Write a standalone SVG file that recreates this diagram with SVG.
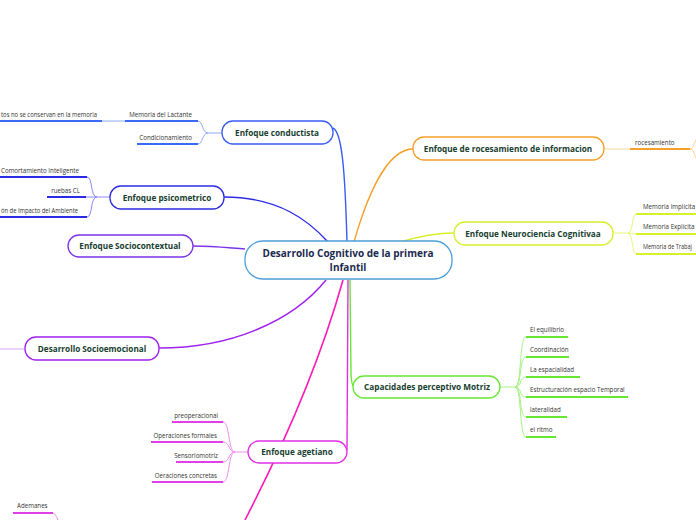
<svg xmlns="http://www.w3.org/2000/svg" width="696" height="520" viewBox="0 0 696 520">
<style>
.node{fill:#fff;stroke-width:1.3}
.nt{font-family:"Open Sans","Noto Sans",sans-serif;font-weight:bold;font-size:8.2px;fill:#17402f;text-anchor:middle}
.ct{font-family:"Open Sans","Noto Sans",sans-serif;font-weight:bold;font-size:10px;fill:#1b2a50;text-anchor:middle}
.st{font-family:"Open Sans","Noto Sans",sans-serif;font-size:6.2px;fill:#333}
.c{fill:none}
.thin{fill:none;stroke-width:1}
.ul{fill:none;stroke-width:2}
</style>
<rect width="696" height="520" fill="#fff"/>
<g id="connectors">
<path class="c" d="M333,128 C342,132 345,170 347,242" stroke="#3a5cf5" stroke-width="1.4"/>
<path class="c" d="M224,197 C280,197 310,222 328,242" stroke="#2b2be6" stroke-width="1.4"/>
<path class="c" d="M193,246 C215,246 230,248 245,249" stroke="#7a35e8" stroke-width="1.4"/>
<path class="c" d="M159,348 C230,348 292,322 326,280" stroke="#a020f0" stroke-width="1.4"/>
<path class="c" d="M348,280 L347,450" stroke="#e030e6" stroke-width="1.4"/>
<path class="c" d="M343,280 Q312,390 245,520" stroke="#ff18b4" stroke-width="1.6"/>
<path class="c" d="M354,242 C366,200 386,149 413,149" stroke="#f5a02a" stroke-width="1.4"/>
<path class="c" d="M400,242 C420,236 435,233 454,233" stroke="#d6f02a" stroke-width="1.4"/>
<path class="c" d="M350,280 L351,375 Q352,387 354,387" stroke="#66e833" stroke-width="1.4"/>
<path class="thin" stroke="#8fa8f8" d="M222,133 L208,133 C202,133 203,121 198,121 M208,133 C202,133 203,144 198,144 M102,121 L125,121"/>
<path class="ul" stroke="#3a6af5" d="M125,121 L198,121 M137,144 L198,144 M0,121 L102,121"/>
<path class="thin" stroke="#8a8af5" d="M110,197 L97,197 C90,197 93,177 87,177 M97,197 L86,197 M97,197 C90,197 93,217 87,217"/>
<path class="ul" stroke="#2b2be6" d="M0,177 L87,177 M47,197 L86,197 M0,217 L87,217"/>
<path class="thin" stroke="#d8a8f5" stroke-width="1.4" d="M25,349 L0,349"/>
<path class="thin" stroke="#f090f0" d="M248,452 L235,452 C228,452 230,422 223,422 M235,452 C228,452 230,442 223,442 M235,452 C228,452 230,462 223,462 M235,452 C228,452 230,482 223,482"/>
<path class="ul" stroke="#e040e6" d="M172,422 L223,422 M151,442 L223,442 M176,462 L223,462 M152,482 L223,482"/>
<path class="ul" stroke="#e040e6" d="M13,513 L53,513"/>
<path class="thin" stroke="#f090f0" d="M53,513 C55,514 57,517 58,520"/>
<path class="thin" stroke="#fbd49a" d="M604,149 L630,149 M690,149 C694,149 694,142 697,138 M690,149 C694,149 694,156 697,160"/>
<path class="ul" stroke="#f5a02a" d="M630,149 L690,149"/>
<path class="thin" stroke="#e6f77a" d="M613,233 L628,233 C633,233 632,214 636,214 M628,233 L636,234 M628,233 C633,233 632,254 636,254"/>
<path class="ul" stroke="#d6f02a" d="M636,214 L696,214 M636,234 L696,234 M636,254 L696,254"/>
<path class="thin" stroke="#a8f088" d="M500,387 L515,387 C522,387 519,337 526,337 M515,387 C522,387 519,357 526,357 M515,387 C522,387 519,377 526,377 M515,387 C522,387 519,397 526,397 M515,387 C522,387 519,417 526,417 M515,387 C522,387 519,437 526,437"/>
<path class="ul" stroke="#66e833" d="M526,337 L568,337 M526,357 L569,357 M526,377 L580,377 M526,397 L628,397 M526,417 L567,417 M526,437 L556,437"/>
</g>
<g id="center">
<rect class="node" x="245" y="241" width="207" height="38" rx="18" stroke="#4a9fd8"/>
<text class="ct" x="348" y="257">Desarrollo Cognitivo de la primera</text>
<text class="ct" x="348" y="271">Infantil</text>
</g>
<g id="conductista">
<rect class="node" x="222" y="121" width="111" height="23" rx="11" stroke="#3a5cf5"/>
<text class="nt" x="277" y="135.5">Enfoque conductista</text>
<text class="st" x="192" y="117" text-anchor="end">Memoria del Lactante</text>
<text class="st" x="192" y="140" text-anchor="end">Condicionamiento</text>
<text class="st" x="1" y="117" textLength="96" lengthAdjust="spacingAndGlyphs">tos no se conservan en la memoria</text>
</g>
<g id="psicometrico">
<rect class="node" x="110" y="186" width="114" height="23" rx="11" stroke="#2b2be6"/>
<text class="nt" x="167" y="200.5">Enfoque psicometrico</text>
<text class="st" x="79" y="173" text-anchor="end">Comortamiento Inteligente</text>
<text class="st" x="80" y="193" text-anchor="end">ruebas CL</text>
<text class="st" x="1" y="213" textLength="77" lengthAdjust="spacingAndGlyphs">ón de Impacto del Ambiente</text>
</g>
<g id="sociocontextual">
<rect class="node" x="68" y="235" width="125" height="22" rx="11" stroke="#7a35e8"/>
<text class="nt" x="130" y="249">Enfoque Sociocontextual</text>
</g>
<g id="socioemocional">
<rect class="node" x="25" y="337" width="134" height="23" rx="11" stroke="#a020f0"/>
<text class="nt" x="92" y="351.5">Desarrollo Socioemocional</text>
</g>
<g id="agetiano">
<rect class="node" x="248" y="441" width="99" height="22" rx="11" stroke="#e030e6"/>
<text class="nt" x="297" y="455">Enfoque agetiano</text>
<text class="st" x="218" y="418" text-anchor="end">preoperacional</text>
<text class="st" x="217" y="438" text-anchor="end">Operaciones formales</text>
<text class="st" x="218" y="458" text-anchor="end">Sensoriomotriz</text>
<text class="st" x="217" y="478" text-anchor="end">Oeraciones concretas</text>
</g>
<g id="ademanes">
<text class="st" x="17" y="508">Ademanes</text>
</g>
<g id="rocesamiento">
<rect class="node" x="413" y="137" width="191" height="23" rx="11" stroke="#f5a02a"/>
<text class="nt" x="508" y="151.5">Enfoque de rocesamiento de informacion</text>
<text class="st" x="635" y="145">rocesamiento</text>
</g>
<g id="neurociencia">
<rect class="node" x="454" y="222" width="159" height="23" rx="11" stroke="#d6f02a"/>
<text class="nt" x="533" y="236.5">Enfoque Neurociencia Cognitivaa</text>
<text class="st" x="643" y="209">Memoria Implícita</text>
<text class="st" x="643" y="229">Memoria Explícita</text>
<text class="st" x="643" y="249" textLength="49" lengthAdjust="spacingAndGlyphs">Memoria de Trabaj</text>
</g>
<g id="capacidades">
<rect class="node" x="353" y="376" width="147" height="22" rx="11" stroke="#66e833"/>
<text class="nt" x="427" y="390">Capacidades perceptivo Motriz</text>
<text class="st" x="530" y="332">El equilibrio</text>
<text class="st" x="530" y="352">Coordinación</text>
<text class="st" x="530" y="372">La espacialidad</text>
<text class="st" x="530" y="392">Estructuración  espacio Temporal</text>
<text class="st" x="530" y="412">lateralidad</text>
<text class="st" x="530" y="432">el ritmo</text>
</g>
</svg>
